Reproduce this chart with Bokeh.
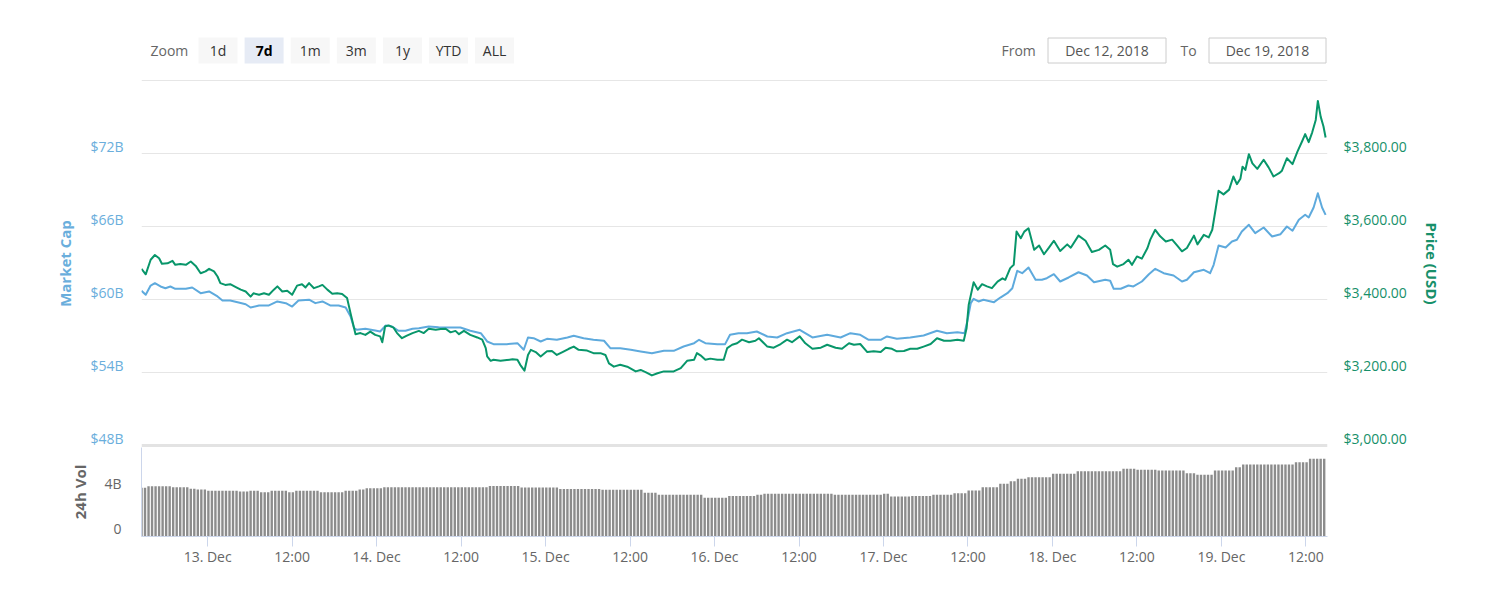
from bokeh.plotting import figure
from bokeh.models import (Range1d, LinearAxis, FixedTicker, NumeralTickFormatter,
                          PrintfTickFormatter, Grid)
from bokeh.layouts import column
from bokeh.core.properties import value
from bokeh.embed import file_html
from bokeh.resources import INLINE

# ---------------------------------------------------------------- data
# time in hours since 2018-12-12 00:00
price_hours = [
    14.6, 15.2, 15.9, 16.5, 17.1, 17.5, 18.3, 19.0, 19.4, 20.1,
    20.9, 21.6, 22.3, 23.0, 23.7, 24.2, 24.9, 25.4, 25.8, 26.5,
    27.2, 28.0, 28.7, 29.4, 30.1, 30.5, 31.3, 32.0, 32.7, 33.4,
    33.9, 34.6, 35.3, 36.0, 36.7, 37.4, 37.9, 38.4, 39.1, 39.8,
    40.3, 41.0, 41.7, 42.4, 43.1, 43.8, 44.3, 44.8, 45.0, 45.7,
    46.4, 47.1, 47.8, 48.5, 48.8, 49.2, 49.7, 50.4, 50.9, 51.6,
    52.3, 53.1, 54.0, 54.7, 55.4, 56.4, 57.1, 57.8, 58.5, 59.2,
    59.7, 60.4, 61.3, 62.3, 63.0, 63.5, 63.7, 64.2, 64.6, 65.6,
    66.5, 67.3, 68.0, 68.4, 69.0, 69.5, 69.9, 70.6, 71.3, 72.2,
    72.9, 73.6, 74.4, 75.3, 76.0, 76.7, 77.9, 78.8, 79.8, 80.5,
    81.0, 81.7, 82.6, 83.6, 84.8, 85.5, 86.2, 87.1, 87.9, 88.8,
    90.2, 91.2, 92.1, 93.1, 93.5, 94.0, 94.7, 95.4, 96.4, 97.3,
    97.8, 98.5, 99.2, 99.9, 100.9, 101.8, 102.3, 103.5, 104.4, 105.4,
    106.3, 107.0, 108.1, 108.9, 109.9, 111.1, 112.0, 113.2, 114.1, 115.1,
    115.8, 116.7, 117.7, 118.6, 119.6, 120.3, 121.2, 121.9, 122.9, 123.8,
    124.8, 125.7, 126.7, 127.6, 128.6, 129.5, 130.5, 131.4, 131.8, 132.1,
    132.8, 133.4, 134.0, 134.7, 135.4, 136.2, 136.9, 137.3, 138.0, 138.5,
    138.9, 139.5, 140.0, 140.6, 141.4, 142.1, 142.8, 143.5, 144.2, 145.1,
    146.1, 146.6, 147.7, 148.7, 149.6, 150.6, 151.5, 152.2, 152.6, 153.2,
    154.1, 154.8, 155.3, 156.0, 156.7, 157.5, 157.9, 158.6, 159.3, 160.1,
    161.0, 161.7, 162.4, 163.1, 164.1, 164.6, 165.5, 166.2, 166.7, 167.2,
    167.6, 168.3, 169.1, 169.7, 170.2, 170.7, 171.0, 171.4, 171.9, 172.4,
    173.1, 174.0, 174.7, 175.4, 176.2, 176.6, 177.3, 178.1, 178.8, 179.5,
    179.9, 180.4, 180.9, 181.4, 181.7, 182.1, 182.5, 182.8,
]
price_usd = [
    3484, 3469, 3509, 3522, 3513, 3498, 3499, 3506, 3495, 3497,
    3495, 3504, 3492, 3472, 3477, 3484, 3477, 3463, 3445, 3440,
    3442, 3434, 3427, 3422, 3408, 3417, 3413, 3417, 3413, 3427,
    3436, 3422, 3424, 3413, 3438, 3442, 3433, 3445, 3431, 3436,
    3440, 3427, 3416, 3417, 3415, 3404, 3362, 3321, 3305, 3308,
    3303, 3312, 3303, 3299, 3283, 3326, 3329, 3323, 3308, 3294,
    3301, 3308, 3314, 3308, 3320, 3317, 3319, 3320, 3310, 3314,
    3305, 3314, 3303, 3296, 3290, 3267, 3244, 3232, 3235, 3232,
    3234, 3236, 3235, 3221, 3205, 3248, 3262, 3256, 3244, 3258,
    3259, 3248, 3256, 3265, 3271, 3262, 3260, 3253, 3253, 3248,
    3225, 3216, 3221, 3216, 3203, 3207, 3201, 3192, 3198, 3203,
    3203, 3212, 3232, 3235, 3253, 3247, 3235, 3238, 3235, 3235,
    3267, 3276, 3280, 3290, 3283, 3287, 3294, 3271, 3268, 3278,
    3290, 3283, 3299, 3280, 3265, 3268, 3276, 3268, 3265, 3280,
    3276, 3278, 3256, 3258, 3256, 3268, 3265, 3258, 3259, 3265,
    3265, 3271, 3278, 3294, 3287, 3287, 3290, 3287, 3321, 3385,
    3447, 3427, 3442, 3436, 3431, 3449, 3458, 3454, 3486, 3495,
    3586, 3568, 3586, 3595, 3536, 3548, 3524, 3542, 3561, 3533,
    3551, 3542, 3575, 3561, 3530, 3536, 3548, 3536, 3497, 3490,
    3497, 3509, 3495, 3518, 3512, 3541, 3564, 3591, 3573, 3559,
    3564, 3548, 3532, 3541, 3575, 3551, 3577, 3570, 3591, 3650,
    3698, 3688, 3701, 3737, 3716, 3731, 3764, 3755, 3798, 3773,
    3758, 3783, 3762, 3737, 3746, 3753, 3787, 3771, 3805, 3835,
    3853, 3831, 3858, 3892, 3944, 3901, 3874, 3844,
]

cap_hours = [
    14.6, 15.2, 15.9, 16.5, 17.3, 18.0, 18.7, 19.4, 20.9, 21.8,
    23.0, 24.2, 25.4, 26.1, 27.2, 28.4, 29.4, 30.1, 31.3, 32.7,
    33.9, 35.1, 36.0, 36.9, 38.4, 39.3, 40.3, 41.4, 42.6, 43.6,
    44.3, 44.8, 45.2, 46.4, 47.8, 48.5, 49.3, 50.2, 51.1, 52.1,
    53.1, 54.0, 55.4, 56.8, 57.8, 59.2, 59.9, 61.3, 62.8, 63.7,
    64.6, 66.5, 68.0, 68.9, 69.5, 70.3, 71.3, 72.2, 73.6, 75.1,
    76.0, 77.4, 78.8, 80.3, 81.2, 82.6, 84.1, 85.5, 87.1, 88.8,
    90.2, 91.6, 93.1, 93.8, 94.7, 96.4, 97.5, 98.2, 99.4, 100.6,
    102.0, 103.5, 104.9, 106.3, 108.1, 109.9, 112.0, 113.9, 115.3, 116.7,
    117.9, 119.6, 120.5, 121.9, 123.8, 125.7, 127.6, 129.0, 130.5, 131.5,
    131.9, 132.4, 132.8, 133.5, 134.2, 135.7, 136.6, 137.6, 138.3, 139.0,
    139.7, 140.6, 141.6, 142.5, 143.2, 144.2, 145.1, 146.3, 147.7, 148.9,
    149.9, 151.5, 152.2, 152.7, 153.7, 154.8, 155.5, 156.7, 157.7, 158.6,
    159.8, 161.2, 162.4, 163.1, 164.1, 165.5, 166.4, 166.9, 167.6, 168.6,
    169.5, 170.2, 170.9, 171.9, 172.8, 174.0, 175.2, 176.4, 177.3, 178.1,
    179.0, 179.9, 180.4, 181.1, 181.7, 182.3, 182.8,
]
market_cap_b = [
    60.72, 60.39, 61.15, 61.34, 61.07, 60.93, 61.07, 60.88, 60.88, 60.99,
    60.52, 60.66, 60.25, 59.92, 59.92, 59.75, 59.61, 59.34, 59.51, 59.51,
    59.84, 59.70, 59.42, 59.92, 59.98, 59.70, 59.84, 59.51, 59.51, 59.34,
    58.60, 57.64, 57.51, 57.59, 57.45, 57.37, 57.86, 57.78, 57.43, 57.43,
    57.59, 57.64, 57.78, 57.72, 57.70, 57.70, 57.70, 57.43, 57.23, 56.55,
    56.33, 56.33, 56.41, 55.87, 56.88, 56.82, 56.55, 56.77, 56.69, 56.88,
    57.02, 56.82, 56.69, 56.61, 56.00, 56.00, 55.87, 55.73, 55.59, 55.78,
    55.78, 56.14, 56.41, 56.69, 56.41, 56.33, 56.33, 57.10, 57.23, 57.23,
    57.37, 56.96, 56.88, 57.23, 57.51, 56.88, 57.10, 56.88, 57.23, 57.10,
    56.69, 56.69, 56.96, 56.77, 56.88, 57.04, 57.43, 57.23, 57.31, 57.23,
    58.19, 59.70, 60.06, 59.84, 59.98, 59.78, 60.16, 60.52, 60.93, 62.36,
    62.16, 62.63, 61.62, 61.62, 61.75, 62.08, 61.48, 61.81, 62.24, 61.97,
    61.42, 61.62, 61.54, 60.88, 60.88, 61.15, 61.07, 61.48, 62.08, 62.52,
    62.16, 61.97, 61.48, 61.62, 62.24, 62.44, 62.16, 62.85, 64.44, 64.27,
    64.77, 64.91, 65.59, 66.14, 65.45, 65.92, 65.18, 65.37, 66.00, 65.65,
    66.55, 66.96, 66.74, 67.56, 68.74, 67.56, 66.96,
]

# 24h volume (billions USD), one bar every 30 minutes from hour 14.6
vol_start_hour = 14.6
vol_step_hours = 0.5
volume_b = [
    4.33, 4.33,
    4.47, 4.47, 4.47, 4.47, 4.47, 4.47, 4.47,
    4.38, 4.38, 4.38, 4.38, 4.38,
    4.24, 4.24,
    4.18, 4.18, 4.18,
    4.06, 4.06, 4.06, 4.06, 4.06, 4.06, 4.06, 4.06, 4.06,
    4.00, 4.00, 4.00,
    4.06, 4.06, 4.06,
    3.94, 3.94, 3.94,
    4.06, 4.06, 4.06, 4.06, 4.06,
    3.94, 3.94,
    4.06, 4.06, 4.06, 4.06, 4.06, 4.06, 4.06,
    3.94, 3.94, 3.94, 3.94, 3.94, 3.94, 3.94,
    4.06, 4.06, 4.06, 4.06,
    4.18, 4.18,
    4.30, 4.30, 4.30, 4.30, 4.30,
    4.38, 4.38, 4.38, 4.38, 4.38, 4.38, 4.38, 4.38, 4.38, 4.38,
    4.38, 4.38, 4.38, 4.38, 4.38, 4.38, 4.38, 4.38, 4.38, 4.38,
    4.38, 4.38, 4.38, 4.38, 4.38, 4.38, 4.38, 4.38, 4.38, 4.38,
    4.50, 4.50, 4.50, 4.50, 4.50, 4.50, 4.50, 4.50, 4.50,
    4.35, 4.35, 4.35, 4.35, 4.35, 4.35, 4.35, 4.35, 4.35, 4.35, 4.35,
    4.22, 4.22, 4.22, 4.22, 4.22, 4.22, 4.22, 4.22, 4.22, 4.22, 4.22, 4.22,
    4.15, 4.15, 4.15, 4.15, 4.15, 4.15, 4.15, 4.15, 4.15, 4.15, 4.15, 4.15,
    3.88, 3.88, 3.88, 3.88,
    3.71, 3.71, 3.71, 3.71, 3.71, 3.71, 3.71, 3.71, 3.71, 3.71, 3.71, 3.71, 3.71,
    3.44, 3.44, 3.44, 3.44, 3.44, 3.44, 3.44,
    3.59, 3.59, 3.59, 3.59, 3.59, 3.59, 3.59, 3.59,
    3.71, 3.71,
    3.79, 3.79, 3.79, 3.79, 3.79, 3.79, 3.79, 3.79, 3.79, 3.79,
    3.79, 3.79, 3.79, 3.79, 3.79, 3.79, 3.79, 3.79, 3.79, 3.79,
    3.71, 3.71, 3.71, 3.71, 3.71, 3.71, 3.71, 3.71, 3.71, 3.71, 3.71, 3.71, 3.71, 3.71,
    3.79, 3.79,
    3.56, 3.56, 3.56, 3.56, 3.56, 3.56,
    3.59, 3.59, 3.59, 3.59, 3.59, 3.59,
    3.71, 3.71, 3.71, 3.71, 3.71, 3.71,
    3.85, 3.85, 3.85, 3.85,
    4.09, 4.09, 4.09, 4.09,
    4.38, 4.38, 4.38, 4.38, 4.38,
    4.68, 4.68, 4.68,
    4.92, 4.92,
    5.13, 5.13, 5.13,
    5.27, 5.27, 5.27, 5.27, 5.27, 5.27, 5.27,
    5.57, 5.57, 5.57, 5.57, 5.57, 5.57, 5.57,
    5.81, 5.81, 5.81, 5.81, 5.81, 5.81, 5.81, 5.81, 5.81, 5.81, 5.81, 5.81, 5.81,
    6.02, 6.02, 6.02, 6.02,
    5.93, 5.93, 5.93, 5.93, 5.93, 5.93,
    5.87, 5.87, 5.87, 5.87, 5.87, 5.87, 5.87, 5.87,
    5.63, 5.63, 5.63,
    5.48, 5.48, 5.48, 5.48, 5.48,
    5.87, 5.87, 5.87, 5.87, 5.87, 5.87,
    6.16, 6.16,
    6.40, 6.40, 6.40, 6.40, 6.40, 6.40, 6.40, 6.40, 6.40, 6.40, 6.40, 6.40, 6.40, 6.40, 6.40,
    6.60, 6.60, 6.60, 6.60,
    6.91, 6.91, 6.91, 6.91, 6.91,
]
vol_hours = [vol_start_hour + vol_step_hours * i for i in range(len(volume_b))]

cap_ticks = [48, 54, 60, 66, 72]
price_ticks = [3000, 3200, 3400, 3600, 3800]
vol_ticks = [0, 4]
vol_tick_labels = ["0", "4B"]
x_tick_hours = [24, 36, 48, 60, 72, 84, 96, 108, 120, 132, 144, 156, 168, 180]
x_tick_labels = ["13. Dec", "12:00", "14. Dec", "12:00", "15. Dec", "12:00", "16. Dec",
                 "12:00", "17. Dec", "12:00", "18. Dec", "12:00", "19. Dec", "12:00"]

zoom_buttons = ["1d", "7d", "1m", "3m", "1y", "YTD", "ALL"]
selected_button = "7d"
date_from = "Dec 12, 2018"
date_to = "Dec 19, 2018"

# ---------------------------------------------------------------- style
FONT = "Open Sans"
BLUE = "#5eaadd"
BLUE_TXT = "#6aaedc"
GREEN = "#08966a"
GREEN_TXT = "#17906a"
GRID = "#e6e6e6"
AXIS = "#ccd6eb"
GRAY_TXT = "#666666"
BAR = "#8c8c8c"

FRAME_W = 1186
LEFT, RIGHT = 141, 166
W = LEFT + FRAME_W + RIGHT
HEADER_H = 75

X_START, X_END = 14.6, 183.07

PX_PER_B = 73.0 / 6.0          # pixels per billion (market cap)
PX_PER_USD = 73.0 / 200.0      # pixels per dollar (price)
TOP_PAD, BOT_PAD = 1, 2        # px around the 78B / 48B lines
LABEL_LIFT = 7.5               # px the y labels sit above their line
cap_lo, cap_hi = 48, 78
price_lo, price_hi = 3000, 4000
MAIN_FRAME_H = int(round((cap_hi - cap_lo) * PX_PER_B)) + TOP_PAD + BOT_PAD
MAIN_TOP = 4

VOL_FRAME_H = 89
VOL_PX_PER_B = 45.0 / 4.0
VOL_LABEL_LIFT = 8
VOL_BOTTOM = 40

x_range = Range1d(X_START, X_END)

# ---------------------------------------------------------------- header
# header frame is aligned with the chart frames: x in page pixels LEFT..LEFT+FRAME_W
hdr = figure(width=W, height=HEADER_H, x_range=Range1d(LEFT, LEFT + FRAME_W),
             y_range=Range1d(HEADER_H, 0), output_backend="svg", toolbar_location=None,
             x_axis_location=None, y_axis_location=None, min_border_left=LEFT,
             min_border_right=RIGHT, min_border_top=0, min_border_bottom=0,
             outline_line_color=None)
hdr.grid.visible = False
BTN_Y0, BTN_Y1, BTN_YC = 37, 63, 50
btn_left = [198 + 46.1 * i for i in range(len(zoom_buttons))]
btn_w = 39
hdr.text(x=[150], y=[BTN_YC], text=["Zoom"], text_font=value(FONT), text_font_size="14px",
         text_color=GRAY_TXT, text_align="left", text_baseline="middle")
fills = ["#e6ebf5" if b == selected_button else "#f7f7f7" for b in zoom_buttons]
hdr.quad(left=btn_left, right=[l + btn_w for l in btn_left], top=BTN_Y0, bottom=BTN_Y1,
         fill_color=fills, line_color=None)
for b, l in zip(zoom_buttons, btn_left):
    sel = b == selected_button
    hdr.text(x=[l + btn_w / 2], y=[BTN_YC], text=[b], text_font=value(FONT),
             text_font_size="14px", text_color="#000000" if sel else "#333333",
             text_font_style="bold" if sel else "normal",
             text_align="center", text_baseline="middle")
hdr.text(x=[1001], y=[BTN_YC], text=["From"], text_font=value(FONT), text_font_size="14px",
         text_color=GRAY_TXT, text_align="left", text_baseline="middle")
hdr.text(x=[1180], y=[BTN_YC], text=["To"], text_font=value(FONT), text_font_size="14px",
         text_color=GRAY_TXT, text_align="left", text_baseline="middle")
hdr.quad(left=[1047.5, 1208.5], right=[1165.5, 1325.5], top=BTN_Y0 + 0.5, bottom=BTN_Y1 - 0.5,
         fill_color="white", line_color="#cccccc", line_width=1)
hdr.text(x=[1106.5, 1267], y=[BTN_YC, BTN_YC], text=[date_from, date_to],
         text_font=value(FONT), text_font_size="14px", text_color="#555555",
         text_align="center", text_baseline="middle")

# ---------------------------------------------------------------- main chart
cap_range = Range1d(cap_lo - BOT_PAD / PX_PER_B, cap_hi + TOP_PAD / PX_PER_B)
price_range = Range1d(price_lo - BOT_PAD / PX_PER_USD, price_hi + TOP_PAD / PX_PER_USD)
main = figure(width=W, height=MAIN_TOP + MAIN_FRAME_H, x_range=x_range, y_range=cap_range,
              output_backend="svg", toolbar_location=None, x_axis_location=None,
              y_axis_location=None, min_border_left=LEFT, min_border_right=RIGHT,
              min_border_top=MAIN_TOP, min_border_bottom=0, outline_line_color=None)
cs, ps = LABEL_LIFT / PX_PER_B, LABEL_LIFT / PX_PER_USD
main.extra_y_ranges = {
    "price": price_range,
    "caplab": Range1d(cap_range.start - cs, cap_range.end - cs),
    "pricelab": Range1d(price_range.start - ps, price_range.end - ps),
}
main.xgrid.visible = False
main.ygrid.ticker = FixedTicker(ticks=cap_ticks[1:] + [cap_hi])
main.ygrid.grid_line_color = GRID
main.ygrid.grid_line_width = 1
main.add_layout(Grid(dimension=1, ticker=FixedTicker(ticks=[cap_lo]),
                     grid_line_color="#e3e3e3", grid_line_width=3))

lax = LinearAxis(y_range_name="caplab", ticker=FixedTicker(ticks=cap_ticks),
                 formatter=PrintfTickFormatter(format="$%dB"), axis_label="Market Cap")
rax = LinearAxis(y_range_name="pricelab", ticker=FixedTicker(ticks=price_ticks),
                 formatter=NumeralTickFormatter(format="$0,0.00"), axis_label="Price (USD)")
for ax, col, standoff in ((lax, BLUE_TXT, 18), (rax, GREEN_TXT, 16)):
    ax.axis_line_color = None
    ax.major_tick_line_color = None
    ax.minor_tick_line_color = None
    ax.major_tick_in = 0
    ax.major_tick_out = 0
    ax.major_label_standoff = standoff
    ax.major_label_text_font = FONT
    ax.major_label_text_font_size = "14px"
    ax.major_label_text_color = col
    ax.axis_label_text_font = FONT
    ax.axis_label_text_font_size = "15px"
    ax.axis_label_text_font_style = "bold"
    ax.axis_label_text_color = col
    ax.axis_label_standoff = 12
main.add_layout(lax, "left")
main.add_layout(rax, "right")

main.line(cap_hours, market_cap_b, line_color=BLUE, line_width=2, line_join="round")
main.line(price_hours, price_usd, y_range_name="price", line_color=GREEN, line_width=2,
          line_join="round")

# ---------------------------------------------------------------- volume pane
vol_top = VOL_FRAME_H / VOL_PX_PER_B
vs = VOL_LABEL_LIFT / VOL_PX_PER_B
vol = figure(width=W, height=VOL_FRAME_H + VOL_BOTTOM, x_range=x_range,
             y_range=Range1d(0, vol_top), output_backend="svg", toolbar_location=None,
             x_axis_location=None, y_axis_location=None, min_border_left=LEFT,
             min_border_right=RIGHT, min_border_top=0, min_border_bottom=VOL_BOTTOM,
             outline_line_color=None)
vol.extra_y_ranges = {"vollab": Range1d(-vs, vol_top - vs)}
vol.grid.visible = False
vol.vbar(x=vol_hours, top=volume_b, bottom=0, width=vol_step_hours * 0.68,
         fill_color=BAR, line_color=None)

vax = LinearAxis(y_range_name="vollab", ticker=FixedTicker(ticks=vol_ticks),
                 major_label_overrides=dict(zip(vol_ticks, vol_tick_labels)),
                 axis_label="24h Vol")
vax.axis_line_color = AXIS
vax.major_tick_line_color = None
vax.minor_tick_line_color = None
vax.major_tick_in = 0
vax.major_tick_out = 0
vax.major_label_standoff = 20
vax.major_label_text_font = FONT
vax.major_label_text_font_size = "14px"
vax.major_label_text_color = GRAY_TXT
vax.axis_label_text_font = FONT
vax.axis_label_text_font_size = "15px"
vax.axis_label_text_font_style = "bold"
vax.axis_label_text_color = GRAY_TXT
vax.axis_label_standoff = 11
vol.add_layout(vax, "left")

xax = LinearAxis(ticker=FixedTicker(ticks=x_tick_hours),
                 major_label_overrides=dict(zip(x_tick_hours, x_tick_labels)))
xax.axis_line_color = AXIS
xax.major_tick_line_color = AXIS
xax.minor_tick_line_color = None
xax.major_tick_in = 0
xax.major_tick_out = 10
xax.major_label_standoff = 0
xax.major_label_text_font = FONT
xax.major_label_text_font_size = "14px"
xax.major_label_text_color = GRAY_TXT
vol.add_layout(xax, "below")

layout = column(hdr, main, vol, spacing=0)
open("out.html", "w").write(file_html(layout, INLINE))
